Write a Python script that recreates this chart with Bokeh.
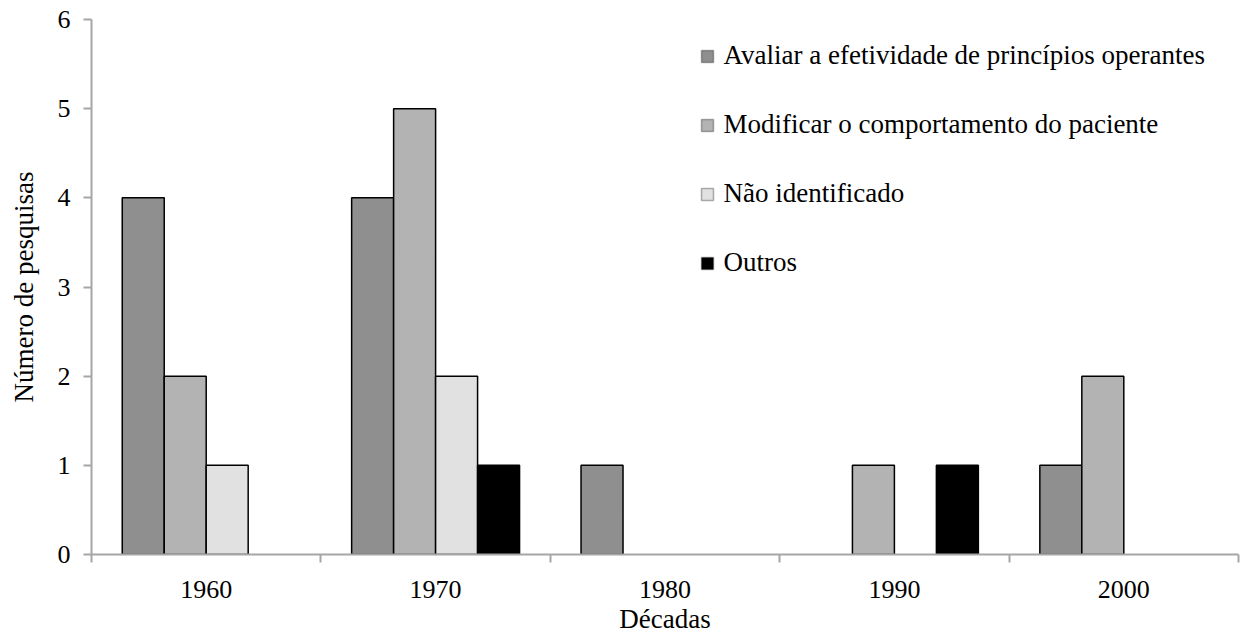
from bokeh.plotting import figure
from bokeh.models import (ColumnDataSource, FixedTicker, Range1d, Label,
                          BoxAnnotation)
from bokeh.embed import file_html
from bokeh.resources import INLINE

decades = ["1960", "1970", "1980", "1990", "2000"]
series_names = ["Avaliar a efetividade de princípios operantes",
                "Modificar o comportamento do paciente",
                "Não identificado",
                "Outros"]
avaliar = [4, 4, 1, 0, 1]
modificar = [2, 5, 0, 1, 2]
nao_identificado = [1, 2, 0, 0, 0]
outros = [0, 1, 0, 1, 0]
y_ticks = [0, 1, 2, 3, 4, 5, 6]

series = [avaliar, modificar, nao_identificado, outros]
colors = ["#8f8f8f", "#b3b3b3", "#e1e1e1", "#000000"]

FONT = "'Liberation Serif'"
TICK_FS = "26px"
LABEL_FS = "27px"
LEGEND_FS = "27px"
AXIS_COLOR = "#a6a6a6"

p = figure(width=1240, height=638, output_backend="svg", toolbar_location=None,
           x_range=Range1d(0, len(decades)), y_range=Range1d(0, 6),
           min_border_left=91, min_border_right=2, min_border_top=19,
           min_border_bottom=84)
p.outline_line_color = None
p.grid.visible = False

bw = 0.183
for i, (vals, col) in enumerate(zip(series, colors)):
    off = (i - 1.5) * bw
    xs = [k + 0.5 + off for k, v in enumerate(vals) if v > 0]
    ts = [v for v in vals if v > 0]
    src = ColumnDataSource(dict(x=xs, top=ts))
    p.vbar(x="x", top="top", width=bw, bottom=0, source=src,
           fill_color=col, line_color="black", line_width=1.5)

# x axis: labels at centres, tick marks at category boundaries
xax = p.xaxis[0]
xax.ticker = FixedTicker(ticks=[k + 0.5 for k in range(len(decades))],
                         minor_ticks=list(range(len(decades) + 1)))
xax.major_label_overrides = {k + 0.5: d for k, d in enumerate(decades)}
xax.major_tick_out = 0
xax.major_tick_in = 0
xax.minor_tick_out = 8
xax.minor_tick_in = 0
xax.minor_tick_line_color = AXIS_COLOR
xax.minor_tick_line_width = 2
xax.axis_line_color = AXIS_COLOR
xax.axis_line_width = 2
xax.major_label_standoff = 18
xax.axis_label = "Décadas"
xax.axis_label_standoff = 3

yax = p.yaxis[0]
yax.ticker = FixedTicker(ticks=y_ticks, minor_ticks=[])
yax.major_tick_out = 8
yax.major_tick_in = 0
yax.major_tick_line_color = AXIS_COLOR
yax.major_tick_line_width = 2
yax.axis_line_color = AXIS_COLOR
yax.axis_line_width = 2
yax.major_label_standoff = 13
yax.axis_label = "Número de pesquisas"
yax.axis_label_standoff = 16

for ax in (xax, yax):
    ax.major_label_text_font = FONT
    ax.major_label_text_font_size = TICK_FS
    ax.major_label_text_color = "black"
    ax.axis_label_text_font = FONT
    ax.axis_label_text_font_size = LABEL_FS
    ax.axis_label_text_font_style = "normal"
    ax.axis_label_text_color = "black"

# legend (screen units, measured from the plot frame's bottom-left corner)
leg_x = 610          # left edge of key squares
leg_top = 498        # centre of first entry, from frame bottom
leg_step = 69        # distance between entries
sq = 12
for i, (name, col) in enumerate(zip(series_names, colors)):
    cy = leg_top - i * leg_step
    p.add_layout(BoxAnnotation(left=leg_x, right=leg_x + sq,
                               bottom=cy - sq / 2, top=cy + sq / 2,
                               left_units="screen", right_units="screen",
                               bottom_units="screen", top_units="screen",
                               fill_color=col, fill_alpha=1,
                               line_color="black", line_width=1.5,
                               editable=False))
    p.add_layout(Label(x=leg_x + sq + 10, y=cy + 2, x_units="screen",
                       y_units="screen", text=name, text_font=FONT,
                       text_font_size=LEGEND_FS, text_color="black",
                       text_baseline="middle", text_align="left"))

open("out.html", "w").write(file_html(p, INLINE))
